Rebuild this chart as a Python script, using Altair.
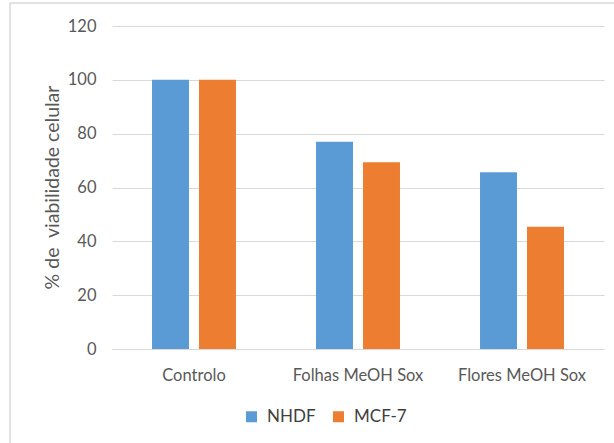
import altair as alt
import pandas as pd

# Cell viability (%) per extract and cell line
categories = ["Controlo", "Folhas MeOH Sox", "Flores MeOH Sox"]
series = ["NHDF", "MCF-7"]
nhdf = [100, 77.0, 65.7]
mcf7 = [100, 69.4, 45.4]
colors = ["#5B9BD5", "#ED7D31"]
y_ticks = [0, 20, 40, 60, 80, 100, 120]

rows = []
for cat, a, b in zip(categories, nhdf, mcf7):
    rows.append({"amostra": cat, "serie": "NHDF", "valor": a})
    rows.append({"amostra": cat, "serie": "MCF-7", "valor": b})
df = pd.DataFrame(rows)

FONT = "Lato"
GRID = "#d9d9d9"
TEXT = "#595959"

bars = alt.Chart(df).mark_bar().encode(
    x=alt.X(
        "amostra:N",
        sort=categories,
        scale=alt.Scale(paddingInner=0.488, paddingOuter=0.244),
        axis=alt.Axis(
            title=None,
            labelAngle=0,
            domain=True,
            domainColor=GRID,
            domainWidth=1,
            ticks=False,
            tickSize=0,
            grid=False,
            labelPadding=18,
            labelFont=FONT,
            labelFontSize=16.5,
            labelColor=TEXT,
        ),
    ),
    xOffset=alt.XOffset(
        "serie:N",
        scale=alt.Scale(domain=series, paddingInner=0.213, paddingOuter=0),
    ),
    y=alt.Y(
        "valor:Q",
        scale=alt.Scale(domain=[0, 120], nice=False),
        axis=alt.Axis(
            # non-breaking space keeps the double gap after "de"
            title="% de\u00a0 viabilidade celular",
            values=y_ticks,
            domain=False,
            ticks=False,
            tickSize=0,
            grid=True,
            gridColor=GRID,
            gridWidth=1,
            labelPadding=16,
            labelFont=FONT,
            labelFontSize=16.5,
            labelColor=TEXT,
            titleFont=FONT,
            titleFontSize=19.5,
            titleFontWeight="normal",
            titleColor=TEXT,
            titleX=-54,
            titleY=161,
            titleAngle=270,
            titleAlign="center",
            titleBaseline="alphabetic",
        ),
    ),
    color=alt.Color(
        "serie:N",
        scale=alt.Scale(domain=series, range=colors),
        legend=alt.Legend(
            title=None,
            orient="none",
            direction="horizontal",
            legendX=131,
            legendY=382,
            symbolType="square",
            symbolSize=121,
            symbolStrokeWidth=0,
            labelFont=FONT,
            labelFontSize=17,
            labelColor="#404040",
            labelOffset=7,
            columnPadding=14,
            padding=0,
        ),
    ),
)

# Chart frame lines along the left and top edges
frame = alt.Data(values=[{}])
left_edge = alt.Chart(frame).mark_rule(color=GRID, strokeWidth=1.5).encode(
    x=alt.value(-102), y=alt.value(-23), y2=alt.value(417)
)
top_edge = alt.Chart(frame).mark_rule(color=GRID, strokeWidth=1.5).encode(
    x=alt.value(-102), x2=alt.value(502), y=alt.value(-23)
)

chart = alt.layer(bars, left_edge, top_edge).properties(
    width=492,
    height=323,
    autosize=alt.AutoSizeParams(type="none"),
    padding={"left": 112, "right": 10, "top": 26, "bottom": 94},
    background="white",
).configure_view(stroke=None)

chart.save("out.html", embed_options={"renderer": "svg", "actions": False})
